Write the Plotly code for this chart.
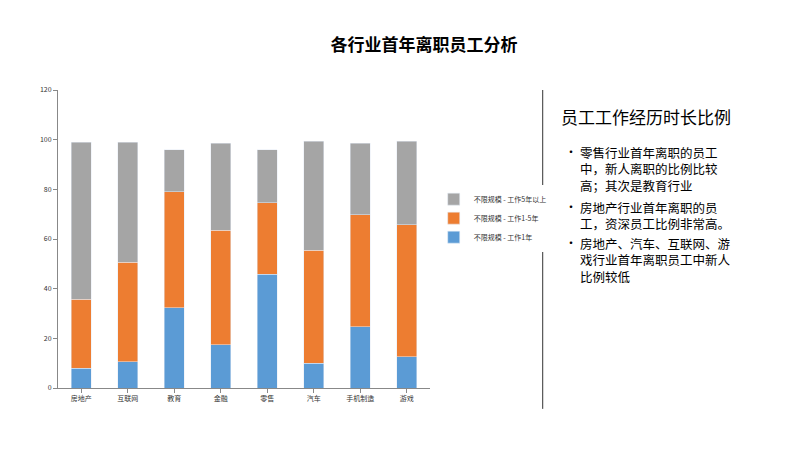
import plotly.graph_objects as go

cats = ["房地产", "互联网", "教育", "金融", "零售", "汽车", "手机制造", "游戏"]
lt1 = [8, 10.5, 32.4, 17.4, 45.8, 10, 24.7, 12.5]
y1to5 = [27.7, 40.2, 46.6, 46.2, 28.8, 45.5, 45, 53.2]
gt5 = [63.3, 48.3, 17, 34.9, 21.4, 43.8, 28.8, 33.6]
names = ["不限规模 - 工作1年", "不限规模 - 工作1-5年", "不限规模 - 工作5年以上"]
colors = ["#5b9bd5", "#ed7d31", "#a5a5a5"]

fig = go.Figure()
for vals, n, c in zip([lt1, y1to5, gt5], names, colors):
    fig.add_trace(go.Bar(x=cats, y=vals, name=n, marker_color=c, width=0.42))

fig.update_layout(
    barmode="stack", width=800, height=450, plot_bgcolor="white", paper_bgcolor="white",
    font=dict(family="Noto Sans CJK SC", size=7, color="#333"),
    margin=dict(l=50, r=378, t=82, b=70),
    title=dict(text="<b>各行业首年离职员工分析</b>", x=0.52, y=0.93, xanchor="center",
               font=dict(size=17, color="black")),
    xaxis=dict(showline=True, linecolor="#888", ticks="outside", tickcolor="#888", ticklen=4,
               tickfont=dict(size=7)),
    yaxis=dict(range=[0, 120], dtick=20, showline=True, linecolor="#888", ticks="outside",
               tickcolor="#888", ticklen=4, showgrid=False, tickfont=dict(size=7)),
    legend=dict(x=1.01, y=0.57, xanchor="left", yanchor="middle", traceorder="reversed",
                font=dict(size=7), itemwidth=30, tracegroupgap=2),
    bargap=0.5,
)
fig.add_shape(type="line", xref="paper", yref="paper", x0=1.303, x1=1.303, y0=-0.07, y1=1.0,
              line=dict(color="#333", width=1))
fig.add_annotation(xref="paper", yref="paper", x=1.348, y=0.96, xanchor="left", yanchor="top",
                   text="员工工作经历时长比例", showarrow=False, font=dict(size=17, color="black"))
bullets = [
    "零售行业首年离职的员工<br>中，新人离职的比例比较<br>高；其次是教育行业",
    "房地产行业首年离职的员<br>工，资深员工比例非常高。",
    "房地产、汽车、互联网、游<br>戏行业首年离职员工中新人<br>比例较低",
]
ys = [0.83, 0.645, 0.525]
for b, yy in zip(bullets, ys):
    fig.add_annotation(xref="paper", yref="paper", x=1.358, y=yy, xanchor="left", yanchor="top",
                       text="•", showarrow=False, font=dict(size=12, color="black"))
    fig.add_annotation(xref="paper", yref="paper", x=1.398, y=yy, xanchor="left", yanchor="top",
                       align="left", text=b, showarrow=False,
                       font=dict(size=12.5, color="black"))
fig.write_html("out.html")
